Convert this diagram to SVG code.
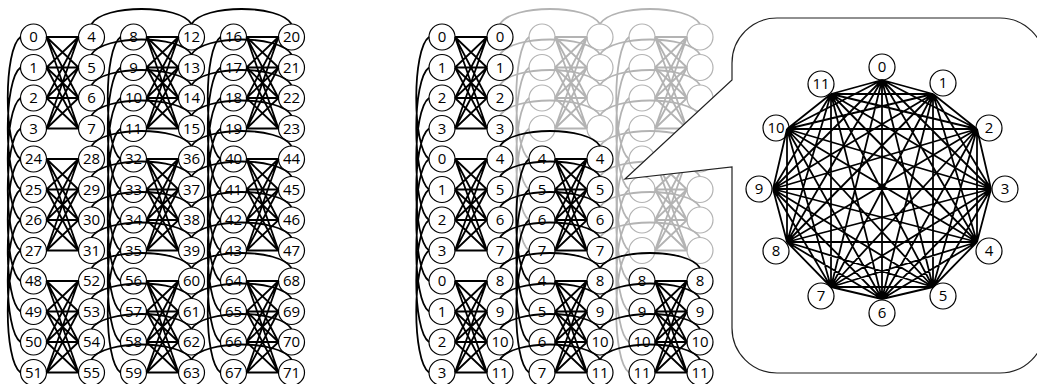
<svg xmlns="http://www.w3.org/2000/svg" xmlns:xlink="http://www.w3.org/1999/xlink" width="1037" height="384" viewBox="0 0 1037 384">
<defs>
<style>
.n circle{fill:none;stroke:#000;stroke-width:1.2}
.g circle{fill:none;stroke:#b3b3b3;stroke-width:1.2}
text{font-family:"Open Sans","Liberation Sans",sans-serif;font-size:15px;text-anchor:middle;fill:#000}
.e{fill:none;stroke:#000;stroke-width:1.8}
.eg{fill:none;stroke:#b3b3b3;stroke-width:1.8}
#callout{fill:#fff;stroke:#222;stroke-width:1.2}
</style>
<path id="k44" d="M0 0L32 0M0 0L32 30.5M0 0L32 61M0 0L32 91.5M0 30.5L32 0M0 30.5L32 30.5M0 30.5L32 61M0 30.5L32 91.5M0 61L32 0M0 61L32 30.5M0 61L32 61M0 61L32 91.5M0 91.5L32 0M0 91.5L32 30.5M0 91.5L32 61M0 91.5L32 91.5"/>
<path id="vc" d="M0 0C-17 12 -17 110 0 122M0 30.5C-17 42.5 -17 140.5 0 152.5M0 61C-17 73 -17 171 0 183M0 91.5C-17 103.5 -17 201.5 0 213.5"/>
<path id="hc" d="M0 0C12 -20 88 -20 100 0M0 30.5C12 10.5 88 10.5 100 30.5M0 61C12 41 88 41 100 61M0 91.5C12 71.5 88 71.5 100 91.5"/>
</defs>
<rect width="1037" height="384" fill="#fff"/>

<g id="left-panel">
<g id="left-connectors">
<use xlink:href="#k44" class="e" x="46.5" y="37"/><use xlink:href="#k44" class="e" x="146.5" y="37"/><use xlink:href="#k44" class="e" x="246.5" y="37"/>
<use xlink:href="#k44" class="e" x="46.5" y="159"/><use xlink:href="#k44" class="e" x="146.5" y="159"/><use xlink:href="#k44" class="e" x="246.5" y="159"/>
<use xlink:href="#k44" class="e" x="46.5" y="281"/><use xlink:href="#k44" class="e" x="146.5" y="281"/><use xlink:href="#k44" class="e" x="246.5" y="281"/>
<use xlink:href="#vc" class="e" x="20.5" y="37"/><use xlink:href="#vc" class="e" x="120.5" y="37"/><use xlink:href="#vc" class="e" x="220.5" y="37"/>
<use xlink:href="#vc" class="e" x="20.5" y="159"/><use xlink:href="#vc" class="e" x="120.5" y="159"/><use xlink:href="#vc" class="e" x="220.5" y="159"/>
<use xlink:href="#hc" class="e" x="91.5" y="24"/><use xlink:href="#hc" class="e" x="191.5" y="24"/>
<use xlink:href="#hc" class="e" x="91.5" y="146"/><use xlink:href="#hc" class="e" x="191.5" y="146"/>
<use xlink:href="#hc" class="e" x="91.5" y="268"/><use xlink:href="#hc" class="e" x="191.5" y="268"/>
</g>
<g id="left-nodes">
<g id="a0" class="n" transform="translate(33.5 37)"><circle r="13"/><text y="5.3">0</text></g>
<g id="a4" class="n" transform="translate(91.5 37)"><circle r="13"/><text y="5.3">4</text></g>
<g id="a8" class="n" transform="translate(133.5 37)"><circle r="13"/><text y="5.3">8</text></g>
<g id="a12" class="n" transform="translate(191.5 37)"><circle r="13"/><text y="5.3">12</text></g>
<g id="a16" class="n" transform="translate(233.5 37)"><circle r="13"/><text y="5.3">16</text></g>
<g id="a20" class="n" transform="translate(291.5 37)"><circle r="13"/><text y="5.3">20</text></g>
<g id="a1" class="n" transform="translate(33.5 67.5)"><circle r="13"/><text y="5.3">1</text></g>
<g id="a5" class="n" transform="translate(91.5 67.5)"><circle r="13"/><text y="5.3">5</text></g>
<g id="a9" class="n" transform="translate(133.5 67.5)"><circle r="13"/><text y="5.3">9</text></g>
<g id="a13" class="n" transform="translate(191.5 67.5)"><circle r="13"/><text y="5.3">13</text></g>
<g id="a17" class="n" transform="translate(233.5 67.5)"><circle r="13"/><text y="5.3">17</text></g>
<g id="a21" class="n" transform="translate(291.5 67.5)"><circle r="13"/><text y="5.3">21</text></g>
<g id="a2" class="n" transform="translate(33.5 98)"><circle r="13"/><text y="5.3">2</text></g>
<g id="a6" class="n" transform="translate(91.5 98)"><circle r="13"/><text y="5.3">6</text></g>
<g id="a10" class="n" transform="translate(133.5 98)"><circle r="13"/><text y="5.3">10</text></g>
<g id="a14" class="n" transform="translate(191.5 98)"><circle r="13"/><text y="5.3">14</text></g>
<g id="a18" class="n" transform="translate(233.5 98)"><circle r="13"/><text y="5.3">18</text></g>
<g id="a22" class="n" transform="translate(291.5 98)"><circle r="13"/><text y="5.3">22</text></g>
<g id="a3" class="n" transform="translate(33.5 128.5)"><circle r="13"/><text y="5.3">3</text></g>
<g id="a7" class="n" transform="translate(91.5 128.5)"><circle r="13"/><text y="5.3">7</text></g>
<g id="a11" class="n" transform="translate(133.5 128.5)"><circle r="13"/><text y="5.3">11</text></g>
<g id="a15" class="n" transform="translate(191.5 128.5)"><circle r="13"/><text y="5.3">15</text></g>
<g id="a19" class="n" transform="translate(233.5 128.5)"><circle r="13"/><text y="5.3">19</text></g>
<g id="a23" class="n" transform="translate(291.5 128.5)"><circle r="13"/><text y="5.3">23</text></g>
<g id="a24" class="n" transform="translate(33.5 159)"><circle r="13"/><text y="5.3">24</text></g>
<g id="a28" class="n" transform="translate(91.5 159)"><circle r="13"/><text y="5.3">28</text></g>
<g id="a32" class="n" transform="translate(133.5 159)"><circle r="13"/><text y="5.3">32</text></g>
<g id="a36" class="n" transform="translate(191.5 159)"><circle r="13"/><text y="5.3">36</text></g>
<g id="a40" class="n" transform="translate(233.5 159)"><circle r="13"/><text y="5.3">40</text></g>
<g id="a44" class="n" transform="translate(291.5 159)"><circle r="13"/><text y="5.3">44</text></g>
<g id="a25" class="n" transform="translate(33.5 189.5)"><circle r="13"/><text y="5.3">25</text></g>
<g id="a29" class="n" transform="translate(91.5 189.5)"><circle r="13"/><text y="5.3">29</text></g>
<g id="a33" class="n" transform="translate(133.5 189.5)"><circle r="13"/><text y="5.3">33</text></g>
<g id="a37" class="n" transform="translate(191.5 189.5)"><circle r="13"/><text y="5.3">37</text></g>
<g id="a41" class="n" transform="translate(233.5 189.5)"><circle r="13"/><text y="5.3">41</text></g>
<g id="a45" class="n" transform="translate(291.5 189.5)"><circle r="13"/><text y="5.3">45</text></g>
<g id="a26" class="n" transform="translate(33.5 220)"><circle r="13"/><text y="5.3">26</text></g>
<g id="a30" class="n" transform="translate(91.5 220)"><circle r="13"/><text y="5.3">30</text></g>
<g id="a34" class="n" transform="translate(133.5 220)"><circle r="13"/><text y="5.3">34</text></g>
<g id="a38" class="n" transform="translate(191.5 220)"><circle r="13"/><text y="5.3">38</text></g>
<g id="a42" class="n" transform="translate(233.5 220)"><circle r="13"/><text y="5.3">42</text></g>
<g id="a46" class="n" transform="translate(291.5 220)"><circle r="13"/><text y="5.3">46</text></g>
<g id="a27" class="n" transform="translate(33.5 250.5)"><circle r="13"/><text y="5.3">27</text></g>
<g id="a31" class="n" transform="translate(91.5 250.5)"><circle r="13"/><text y="5.3">31</text></g>
<g id="a35" class="n" transform="translate(133.5 250.5)"><circle r="13"/><text y="5.3">35</text></g>
<g id="a39" class="n" transform="translate(191.5 250.5)"><circle r="13"/><text y="5.3">39</text></g>
<g id="a43" class="n" transform="translate(233.5 250.5)"><circle r="13"/><text y="5.3">43</text></g>
<g id="a47" class="n" transform="translate(291.5 250.5)"><circle r="13"/><text y="5.3">47</text></g>
<g id="a48" class="n" transform="translate(33.5 281)"><circle r="13"/><text y="5.3">48</text></g>
<g id="a52" class="n" transform="translate(91.5 281)"><circle r="13"/><text y="5.3">52</text></g>
<g id="a56" class="n" transform="translate(133.5 281)"><circle r="13"/><text y="5.3">56</text></g>
<g id="a60" class="n" transform="translate(191.5 281)"><circle r="13"/><text y="5.3">60</text></g>
<g id="a64" class="n" transform="translate(233.5 281)"><circle r="13"/><text y="5.3">64</text></g>
<g id="a68" class="n" transform="translate(291.5 281)"><circle r="13"/><text y="5.3">68</text></g>
<g id="a49" class="n" transform="translate(33.5 311.5)"><circle r="13"/><text y="5.3">49</text></g>
<g id="a53" class="n" transform="translate(91.5 311.5)"><circle r="13"/><text y="5.3">53</text></g>
<g id="a57" class="n" transform="translate(133.5 311.5)"><circle r="13"/><text y="5.3">57</text></g>
<g id="a61" class="n" transform="translate(191.5 311.5)"><circle r="13"/><text y="5.3">61</text></g>
<g id="a65" class="n" transform="translate(233.5 311.5)"><circle r="13"/><text y="5.3">65</text></g>
<g id="a69" class="n" transform="translate(291.5 311.5)"><circle r="13"/><text y="5.3">69</text></g>
<g id="a50" class="n" transform="translate(33.5 342)"><circle r="13"/><text y="5.3">50</text></g>
<g id="a54" class="n" transform="translate(91.5 342)"><circle r="13"/><text y="5.3">54</text></g>
<g id="a58" class="n" transform="translate(133.5 342)"><circle r="13"/><text y="5.3">58</text></g>
<g id="a62" class="n" transform="translate(191.5 342)"><circle r="13"/><text y="5.3">62</text></g>
<g id="a66" class="n" transform="translate(233.5 342)"><circle r="13"/><text y="5.3">66</text></g>
<g id="a70" class="n" transform="translate(291.5 342)"><circle r="13"/><text y="5.3">70</text></g>
<g id="a51" class="n" transform="translate(33.5 372.5)"><circle r="13"/><text y="5.3">51</text></g>
<g id="a55" class="n" transform="translate(91.5 372.5)"><circle r="13"/><text y="5.3">55</text></g>
<g id="a59" class="n" transform="translate(133.5 372.5)"><circle r="13"/><text y="5.3">59</text></g>
<g id="a63" class="n" transform="translate(191.5 372.5)"><circle r="13"/><text y="5.3">63</text></g>
<g id="a67" class="n" transform="translate(233.5 372.5)"><circle r="13"/><text y="5.3">67</text></g>
<g id="a71" class="n" transform="translate(291.5 372.5)"><circle r="13"/><text y="5.3">71</text></g>
</g>
</g>

<g id="mid-panel" transform="translate(408.5 0)">
<g id="mid-connectors-unused">
<use xlink:href="#k44" class="eg" x="146.5" y="37"/><use xlink:href="#k44" class="eg" x="246.5" y="37"/><use xlink:href="#k44" class="eg" x="246.5" y="159"/>
<use xlink:href="#vc" class="eg" x="120.5" y="37"/><use xlink:href="#vc" class="eg" x="220.5" y="37"/><use xlink:href="#vc" class="eg" x="220.5" y="159"/>
<use xlink:href="#hc" class="eg" x="91.5" y="24"/><use xlink:href="#hc" class="eg" x="191.5" y="24"/><use xlink:href="#hc" class="eg" x="191.5" y="146"/>
</g>
<g id="mid-nodes-unused">
<g id="b0_2" class="g" transform="translate(133.5 37)"><circle r="13"/></g>
<g id="b0_3" class="g" transform="translate(191.5 37)"><circle r="13"/></g>
<g id="b0_4" class="g" transform="translate(233.5 37)"><circle r="13"/></g>
<g id="b0_5" class="g" transform="translate(291.5 37)"><circle r="13"/></g>
<g id="b1_2" class="g" transform="translate(133.5 67.5)"><circle r="13"/></g>
<g id="b1_3" class="g" transform="translate(191.5 67.5)"><circle r="13"/></g>
<g id="b1_4" class="g" transform="translate(233.5 67.5)"><circle r="13"/></g>
<g id="b1_5" class="g" transform="translate(291.5 67.5)"><circle r="13"/></g>
<g id="b2_2" class="g" transform="translate(133.5 98)"><circle r="13"/></g>
<g id="b2_3" class="g" transform="translate(191.5 98)"><circle r="13"/></g>
<g id="b2_4" class="g" transform="translate(233.5 98)"><circle r="13"/></g>
<g id="b2_5" class="g" transform="translate(291.5 98)"><circle r="13"/></g>
<g id="b3_2" class="g" transform="translate(133.5 128.5)"><circle r="13"/></g>
<g id="b3_3" class="g" transform="translate(191.5 128.5)"><circle r="13"/></g>
<g id="b3_4" class="g" transform="translate(233.5 128.5)"><circle r="13"/></g>
<g id="b3_5" class="g" transform="translate(291.5 128.5)"><circle r="13"/></g>
<g id="b4_4" class="g" transform="translate(233.5 159)"><circle r="13"/></g>
<g id="b4_5" class="g" transform="translate(291.5 159)"><circle r="13"/></g>
<g id="b5_4" class="g" transform="translate(233.5 189.5)"><circle r="13"/></g>
<g id="b5_5" class="g" transform="translate(291.5 189.5)"><circle r="13"/></g>
<g id="b6_4" class="g" transform="translate(233.5 220)"><circle r="13"/></g>
<g id="b6_5" class="g" transform="translate(291.5 220)"><circle r="13"/></g>
<g id="b7_4" class="g" transform="translate(233.5 250.5)"><circle r="13"/></g>
<g id="b7_5" class="g" transform="translate(291.5 250.5)"><circle r="13"/></g>
</g>
<g id="mid-connectors">
<use xlink:href="#k44" class="e" x="46.5" y="37"/><use xlink:href="#k44" class="e" x="46.5" y="159"/><use xlink:href="#k44" class="e" x="46.5" y="281"/>
<use xlink:href="#k44" class="e" x="146.5" y="159"/><use xlink:href="#k44" class="e" x="146.5" y="281"/><use xlink:href="#k44" class="e" x="246.5" y="281"/>
<use xlink:href="#vc" class="e" x="20.5" y="37"/><use xlink:href="#vc" class="e" x="20.5" y="159"/><use xlink:href="#vc" class="e" x="120.5" y="159"/>
<use xlink:href="#hc" class="e" x="91.5" y="146"/><use xlink:href="#hc" class="e" x="91.5" y="268"/><use xlink:href="#hc" class="e" x="191.5" y="268"/>
</g>
<g id="mid-nodes">
<g id="b0_0" class="n" transform="translate(33.5 37)"><circle r="13"/><text y="5.3">0</text></g>
<g id="b0_1" class="n" transform="translate(91.5 37)"><circle r="13"/><text y="5.3">0</text></g>
<g id="b1_0" class="n" transform="translate(33.5 67.5)"><circle r="13"/><text y="5.3">1</text></g>
<g id="b1_1" class="n" transform="translate(91.5 67.5)"><circle r="13"/><text y="5.3">1</text></g>
<g id="b2_0" class="n" transform="translate(33.5 98)"><circle r="13"/><text y="5.3">2</text></g>
<g id="b2_1" class="n" transform="translate(91.5 98)"><circle r="13"/><text y="5.3">2</text></g>
<g id="b3_0" class="n" transform="translate(33.5 128.5)"><circle r="13"/><text y="5.3">3</text></g>
<g id="b3_1" class="n" transform="translate(91.5 128.5)"><circle r="13"/><text y="5.3">3</text></g>
<g id="b4_0" class="n" transform="translate(33.5 159)"><circle r="13"/><text y="5.3">0</text></g>
<g id="b4_1" class="n" transform="translate(91.5 159)"><circle r="13"/><text y="5.3">4</text></g>
<g id="b4_2" class="n" transform="translate(133.5 159)"><circle r="13"/><text y="5.3">4</text></g>
<g id="b4_3" class="n" transform="translate(191.5 159)"><circle r="13"/><text y="5.3">4</text></g>
<g id="b5_0" class="n" transform="translate(33.5 189.5)"><circle r="13"/><text y="5.3">1</text></g>
<g id="b5_1" class="n" transform="translate(91.5 189.5)"><circle r="13"/><text y="5.3">5</text></g>
<g id="b5_2" class="n" transform="translate(133.5 189.5)"><circle r="13"/><text y="5.3">5</text></g>
<g id="b5_3" class="n" transform="translate(191.5 189.5)"><circle r="13"/><text y="5.3">5</text></g>
<g id="b6_0" class="n" transform="translate(33.5 220)"><circle r="13"/><text y="5.3">2</text></g>
<g id="b6_1" class="n" transform="translate(91.5 220)"><circle r="13"/><text y="5.3">6</text></g>
<g id="b6_2" class="n" transform="translate(133.5 220)"><circle r="13"/><text y="5.3">6</text></g>
<g id="b6_3" class="n" transform="translate(191.5 220)"><circle r="13"/><text y="5.3">6</text></g>
<g id="b7_0" class="n" transform="translate(33.5 250.5)"><circle r="13"/><text y="5.3">3</text></g>
<g id="b7_1" class="n" transform="translate(91.5 250.5)"><circle r="13"/><text y="5.3">7</text></g>
<g id="b7_2" class="n" transform="translate(133.5 250.5)"><circle r="13"/><text y="5.3">7</text></g>
<g id="b7_3" class="n" transform="translate(191.5 250.5)"><circle r="13"/><text y="5.3">7</text></g>
<g id="b8_0" class="n" transform="translate(33.5 281)"><circle r="13"/><text y="5.3">0</text></g>
<g id="b8_1" class="n" transform="translate(91.5 281)"><circle r="13"/><text y="5.3">8</text></g>
<g id="b8_2" class="n" transform="translate(133.5 281)"><circle r="13"/><text y="5.3">4</text></g>
<g id="b8_3" class="n" transform="translate(191.5 281)"><circle r="13"/><text y="5.3">8</text></g>
<g id="b8_4" class="n" transform="translate(233.5 281)"><circle r="13"/><text y="5.3">8</text></g>
<g id="b8_5" class="n" transform="translate(291.5 281)"><circle r="13"/><text y="5.3">8</text></g>
<g id="b9_0" class="n" transform="translate(33.5 311.5)"><circle r="13"/><text y="5.3">1</text></g>
<g id="b9_1" class="n" transform="translate(91.5 311.5)"><circle r="13"/><text y="5.3">9</text></g>
<g id="b9_2" class="n" transform="translate(133.5 311.5)"><circle r="13"/><text y="5.3">5</text></g>
<g id="b9_3" class="n" transform="translate(191.5 311.5)"><circle r="13"/><text y="5.3">9</text></g>
<g id="b9_4" class="n" transform="translate(233.5 311.5)"><circle r="13"/><text y="5.3">9</text></g>
<g id="b9_5" class="n" transform="translate(291.5 311.5)"><circle r="13"/><text y="5.3">9</text></g>
<g id="b10_0" class="n" transform="translate(33.5 342)"><circle r="13"/><text y="5.3">2</text></g>
<g id="b10_1" class="n" transform="translate(91.5 342)"><circle r="13"/><text y="5.3">10</text></g>
<g id="b10_2" class="n" transform="translate(133.5 342)"><circle r="13"/><text y="5.3">6</text></g>
<g id="b10_3" class="n" transform="translate(191.5 342)"><circle r="13"/><text y="5.3">10</text></g>
<g id="b10_4" class="n" transform="translate(233.5 342)"><circle r="13"/><text y="5.3">10</text></g>
<g id="b10_5" class="n" transform="translate(291.5 342)"><circle r="13"/><text y="5.3">10</text></g>
<g id="b11_0" class="n" transform="translate(33.5 372.5)"><circle r="13"/><text y="5.3">3</text></g>
<g id="b11_1" class="n" transform="translate(91.5 372.5)"><circle r="13"/><text y="5.3">11</text></g>
<g id="b11_2" class="n" transform="translate(133.5 372.5)"><circle r="13"/><text y="5.3">7</text></g>
<g id="b11_3" class="n" transform="translate(191.5 372.5)"><circle r="13"/><text y="5.3">11</text></g>
<g id="b11_4" class="n" transform="translate(233.5 372.5)"><circle r="13"/><text y="5.3">11</text></g>
<g id="b11_5" class="n" transform="translate(291.5 372.5)"><circle r="13"/><text y="5.3">11</text></g>
</g>
</g>

<path id="callout" d="M732 63A45 45 0 0 1 777 18L1000 18A45 45 0 0 1 1045 63L1045 328A45 45 0 0 1 1000 373L777 373A45 45 0 0 1 732 328L732 167L625 179L732 80Z"/>

<g id="k12-connectors">
<path class="e" d="M882 80L933 94M882 80L977 129M882 80L991 189M882 80L977 242M882 80L933 287M882 80L882 299M882 80L831 287M882 80L787 242M882 80L773 189M882 80L787 129M882 80L831 94M933 94L977 129M933 94L991 189M933 94L977 242M933 94L933 287M933 94L882 299M933 94L831 287M933 94L787 242M933 94L773 189M933 94L787 129M933 94L831 94M977 129L991 189M977 129L977 242M977 129L933 287M977 129L882 299M977 129L831 287M977 129L787 242M977 129L773 189M977 129L787 129M977 129L831 94M991 189L977 242M991 189L933 287M991 189L882 299M991 189L831 287M991 189L787 242M991 189L773 189M991 189L787 129M991 189L831 94M977 242L933 287M977 242L882 299M977 242L831 287M977 242L787 242M977 242L773 189M977 242L787 129M977 242L831 94M933 287L882 299M933 287L831 287M933 287L787 242M933 287L773 189M933 287L787 129M933 287L831 94M882 299L831 287M882 299L787 242M882 299L773 189M882 299L787 129M882 299L831 94M831 287L787 242M831 287L773 189M831 287L787 129M831 287L831 94M787 242L773 189M787 242L787 129M787 242L831 94M773 189L787 129M773 189L831 94M787 129L831 94"/>
</g>
<g id="k12-nodes">
<g id="k0" class="n" transform="translate(882 67)"><circle r="13"/><text y="5.3">0</text></g>
<g id="k1" class="n" transform="translate(943 83)"><circle r="13"/><text y="5.3">1</text></g>
<g id="k2" class="n" transform="translate(989 128)"><circle r="13"/><text y="5.3">2</text></g>
<g id="k3" class="n" transform="translate(1005 189)"><circle r="13"/><text y="5.3">3</text></g>
<g id="k4" class="n" transform="translate(989 251)"><circle r="13"/><text y="5.3">4</text></g>
<g id="k5" class="n" transform="translate(943 296)"><circle r="13"/><text y="5.3">5</text></g>
<g id="k6" class="n" transform="translate(882 313)"><circle r="13"/><text y="5.3">6</text></g>
<g id="k7" class="n" transform="translate(821 296)"><circle r="13"/><text y="5.3">7</text></g>
<g id="k8" class="n" transform="translate(776 251)"><circle r="13"/><text y="5.3">8</text></g>
<g id="k9" class="n" transform="translate(759 189)"><circle r="13"/><text y="5.3">9</text></g>
<g id="k10" class="n" transform="translate(776 128)"><circle r="13"/><text y="5.3">10</text></g>
<g id="k11" class="n" transform="translate(821 84)"><circle r="13"/><text y="5.3">11</text></g>
</g>
</svg>
